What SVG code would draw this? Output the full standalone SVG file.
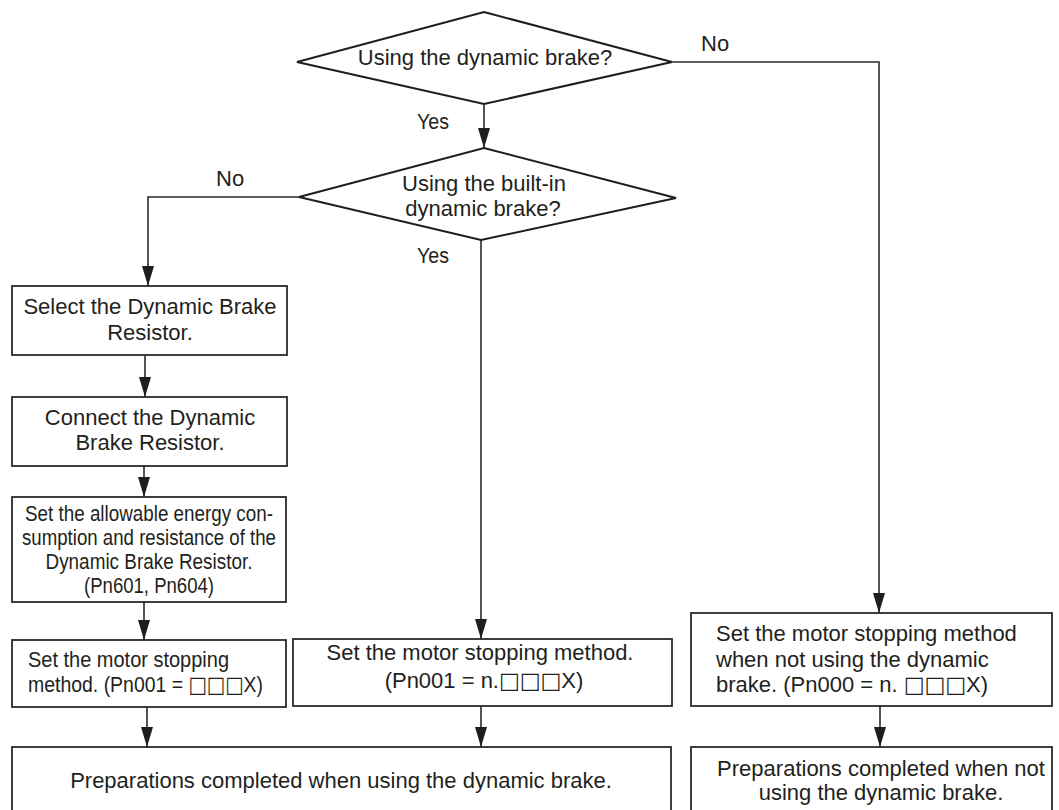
<svg xmlns="http://www.w3.org/2000/svg" width="1059" height="810" viewBox="0 0 1059 810">
<style>
  text { font-family: "Liberation Sans", Arial, sans-serif; font-size: 22px; fill: #231f20; }
  .c { text-anchor: middle; }
  .sq { font-family: "DejaVu Sans", sans-serif; font-size: 22px; }
  .box { fill: #fff; stroke: #2a2a2a; stroke-width: 1.8; }
  .dia { fill: #fff; stroke: #1e1e1e; stroke-width: 2; }
  .conn { fill: none; stroke: #2a2a2a; stroke-width: 1.6; }
  .arr { marker-end: url(#ah); }
</style>
<defs>
  <marker id="ah" markerUnits="userSpaceOnUse" viewBox="0 0 20 12" markerWidth="20" markerHeight="12" refX="20" refY="6" orient="auto">
    <path d="M0,0 L20,6 L0,12 z" fill="#1e1e1e"/>
  </marker>
</defs>
<rect width="1059" height="810" fill="#fff"/>

<g id="connectors">
  <path class="conn arr" d="M484,104 V148"/>
  <path class="conn arr" d="M299,197 H148 V286"/>
  <path class="conn arr" d="M481,240 V639"/>
  <path class="conn arr" d="M672,62 H879 V613"/>
  <path class="conn arr" d="M145,355 V397"/>
  <path class="conn arr" d="M144,466 V497"/>
  <path class="conn arr" d="M144,602 V640"/>
  <path class="conn arr" d="M147,707 V747"/>
  <path class="conn arr" d="M481,706 V747"/>
  <path class="conn arr" d="M880,706 V747"/>
</g>
<g id="labels">
  <text x="417" y="129" textLength="32" lengthAdjust="spacingAndGlyphs">Yes</text>
  <text x="701" y="51">No</text>
  <text x="216" y="186">No</text>
  <text x="417" y="263" textLength="32" lengthAdjust="spacingAndGlyphs">Yes</text>
</g>

<g id="d1">
  <polygon class="dia" points="484,12 672,62 484,104 297,62"/>
  <text class="c" x="485" y="65">Using the dynamic brake?</text>
</g>
<g id="d2">
  <polygon class="dia" points="484,148 676,198 481,240 299,197"/>
  <text class="c" x="484" y="191">Using the built-in</text>
  <text class="c" x="483" y="216">dynamic brake?</text>
</g>
<g id="n1">
  <rect class="box" x="12" y="286" width="275" height="69"/>
  <text class="c" x="150" y="314">Select the Dynamic Brake</text>
  <text class="c" x="150" y="340">Resistor.</text>
</g>
<g id="n2">
  <rect class="box" x="12" y="397" width="275" height="69"/>
  <text class="c" x="150" y="425">Connect the Dynamic</text>
  <text class="c" x="150" y="450">Brake Resistor.</text>
</g>
<g id="n3">
  <rect class="box" x="12" y="497" width="274" height="105"/>
  <text class="c" x="149" y="521" textLength="248" lengthAdjust="spacingAndGlyphs">Set the allowable energy con-</text>
  <text class="c" x="149" y="545" textLength="254" lengthAdjust="spacingAndGlyphs">sumption and resistance of the</text>
  <text class="c" x="149" y="569" textLength="207" lengthAdjust="spacingAndGlyphs">Dynamic Brake Resistor.</text>
  <text class="c" x="149" y="593" textLength="130" lengthAdjust="spacingAndGlyphs">(Pn601, Pn604)</text>
</g>
<g id="n4">
  <rect class="box" x="12" y="640" width="274" height="67"/>
  <text x="28" y="667" textLength="201" lengthAdjust="spacingAndGlyphs">Set the motor stopping</text>
  <text x="28" y="692" textLength="235" lengthAdjust="spacingAndGlyphs">method. (Pn001 = <tspan class="sq">□□□</tspan>X)</text>
</g>
<g id="n5">
  <rect class="box" x="293" y="639" width="379" height="67"/>
  <text class="c" x="480" y="660">Set the motor stopping method.</text>
  <text class="c" x="484" y="688">(Pn001 = n.<tspan class="sq">□□□</tspan>X)</text>
</g>
<g id="n6">
  <rect class="box" x="691" y="613" width="361" height="93"/>
  <text x="716" y="641">Set the motor stopping method</text>
  <text x="716" y="667">when not using the dynamic</text>
  <text x="716" y="692">brake. (Pn000 = n. <tspan class="sq">□□□</tspan>X)</text>
</g>
<g id="n7">
  <rect class="box" x="12" y="747" width="659" height="70"/>
  <text class="c" x="341" y="788">Preparations completed when using the dynamic brake.</text>
</g>
<g id="n8">
  <rect class="box" x="691" y="747" width="361" height="70"/>
  <text class="c" x="881" y="776">Preparations completed when not</text>
  <text class="c" x="881" y="800">using the dynamic brake.</text>
</g>
</svg>
